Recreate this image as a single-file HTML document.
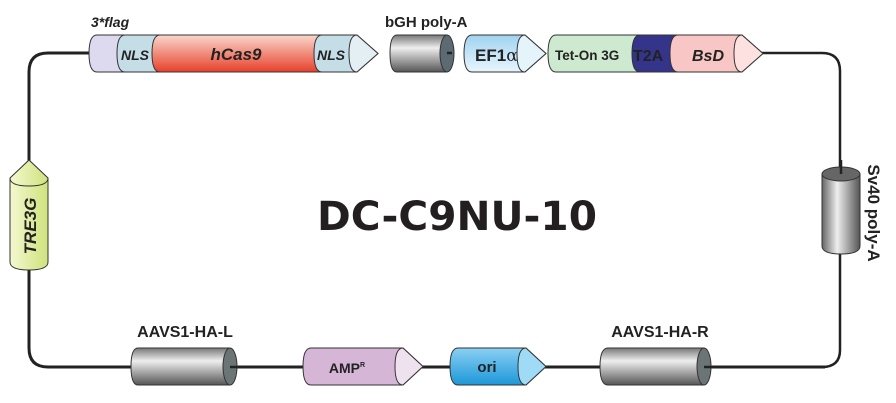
<!DOCTYPE html>
<html><head><style>html,body{margin:0;padding:0;background:#fff}svg{display:block}</style></head>
<body>
<svg width="896" height="403" viewBox="0 0 896 403" xmlns="http://www.w3.org/2000/svg" font-family="Liberation Sans, Arial, sans-serif">
<defs>
<linearGradient id="gray" x1="0" y1="0" x2="0" y2="1"><stop offset="0" stop-color="#777"/><stop offset="0.35" stop-color="#eee"/><stop offset="1" stop-color="#555"/></linearGradient>
<linearGradient id="grayv" x1="0" y1="0" x2="1" y2="0"><stop offset="0" stop-color="#666"/><stop offset="0.4" stop-color="#eee"/><stop offset="1" stop-color="#555"/></linearGradient>
<linearGradient id="red" x1="0" y1="0" x2="0" y2="1"><stop offset="0" stop-color="#f9d7cc"/><stop offset="1" stop-color="#e8402a"/></linearGradient>
<linearGradient id="blue" x1="0" y1="0" x2="0" y2="1"><stop offset="0" stop-color="#9fd3f0"/><stop offset="1" stop-color="#e8f5fc"/></linearGradient>
<linearGradient id="ori" x1="0" y1="0" x2="0" y2="1"><stop offset="0" stop-color="#8ad0f3"/><stop offset="1" stop-color="#1c97d8"/></linearGradient>
<linearGradient id="lime" x1="0" y1="0" x2="1" y2="0"><stop offset="0" stop-color="#f4f8d0"/><stop offset="1" stop-color="#cfe27c"/></linearGradient>
</defs>
<g fill="none" stroke="#222" stroke-width="3">
<path d="M90 53 H48 Q29 53 29 72 V348 Q29 367 48 367 H825"/>
<path d="M760 53 H822 Q840 53 840 71 V350 Q840 367 822 367 H700" stroke-width="2.5"/>
</g>
<g stroke="#333" stroke-width="1">
<path d="M97 35 H125 V72 H97 Q89 72 89 53.5 Q89 35 97 35Z" fill="#ddd9ee"/>
<path d="M125 35 H160 V72 H125 Q117 72 117 53.5 Q117 35 125 35Z" fill="#c5dde6"/>
<path d="M160 35 H322 V72 H160 Q152 72 152 53.5 Q152 35 160 35Z" fill="url(#red)"/>
<path d="M322 35 H357 L378 53.5 L357 72 H322 Q314 72 314 53.5 Q314 35 322 35Z" fill="#c5dde6"/>
<path d="M357 35 Q349 35 349 53.5 Q349 72 357 72 L378 53.5Z" fill="#e4eff3"/>
<path d="M397 35 H447 V72 H397 Q390 72 390 53.5 Q390 35 397 35Z" fill="url(#gray)"/>
<ellipse cx="447" cy="53.5" rx="7" ry="18.5" fill="#5c6a72"/>
<path d="M472 35 H525 L546 53.5 L525 72 H472 Q464 72 464 53.5 Q464 35 472 35Z" fill="url(#blue)"/>
<path d="M525 35 Q517 35 517 53.5 Q517 72 525 72 L546 53.5Z" fill="#e5f4fb"/>
<path d="M556 35 H640 V72 H556 Q548 72 548 53.5 Q548 35 556 35Z" fill="#cde9cf"/>
<path d="M640 35 H678 V72 H640 Q632 72 632 53.5 Q632 35 640 35Z" fill="#34348a"/>
<path d="M678 35 H742 L763 53.5 L742 72 H678 Q670 72 670 53.5 Q670 35 678 35Z" fill="#f9c6c6"/>
<path d="M742 35 Q734 35 734 53.5 Q734 72 742 72 L763 53.5Z" fill="#fde0e0"/>
<path d="M10 178 L29 160 L48 178 V262 Q48 270 29 270 Q10 270 10 262Z" fill="url(#lime)"/>
<path d="M10 178 Q10 186 29 186 Q48 186 48 178" fill="none"/>
<path d="M822 174 V246 Q822 254 841 254 Q860 254 860 246 V174Z" fill="url(#grayv)"/>
<ellipse cx="841" cy="174" rx="19" ry="7" fill="#666"/>
<path d="M138 348 H230 V385 H138 Q131 385 131 366.5 Q131 348 138 348Z" fill="url(#gray)"/>
<ellipse cx="230" cy="366.5" rx="7" ry="18.5" fill="#6b7575"/>
<path d="M311 348 H403 L423 366.5 L403 385 H311 Q303 385 303 366.5 Q303 348 311 348Z" fill="#d6b6d6"/>
<path d="M403 348 Q395 348 395 366.5 Q395 385 403 385 L423 366.5Z" fill="#efe2ef"/>
<path d="M458 348 H526 L546 366.5 L526 385 H458 Q450 385 450 366.5 Q450 348 458 348Z" fill="url(#ori)"/>
<path d="M526 348 Q518 348 518 366.5 Q518 385 526 385 L546 366.5Z" fill="#9fdaf6"/>
<path d="M608 348 H704 V385 H608 Q600 385 600 366.5 Q600 348 608 348Z" fill="url(#gray)"/>
<ellipse cx="704" cy="366.5" rx="7" ry="18.5" fill="#6b7575"/>
</g>
<g stroke="#222" stroke-width="2.5"><line x1="704" y1="367" x2="712" y2="367"/><line x1="447" y1="53" x2="452" y2="53"/><line x1="230" y1="367" x2="237" y2="367"/><line x1="841" y1="160" x2="841" y2="174"/></g>
<g fill="#222" font-weight="bold" font-size="14">
<text x="91" y="27" font-style="italic" font-size="14">3*flag</text>
<text x="121" y="60" font-style="italic" font-size="14">NLS</text>
<text x="236" y="60" font-style="italic" font-size="17" text-anchor="middle">hCas9</text>
<text x="317" y="60" font-style="italic" font-size="14">NLS</text>
<text x="385" y="27" font-size="15">bGH poly-A</text>
<text x="475" y="61" font-size="17">EF1<tspan font-weight="normal" font-family="DejaVu Serif, serif">α</tspan></text>
<text x="555" y="60" font-size="13.5">Tet-On 3G</text>
<text x="633" y="61" font-size="16">T2A</text>
<text x="708" y="61" font-style="italic" font-size="16" text-anchor="middle">BsD</text>
<text transform="translate(36 226) rotate(-90)" text-anchor="middle" font-style="italic" font-size="17">TRE3G</text>
<text transform="translate(868 213) rotate(90)" text-anchor="middle" font-size="17">Sv40 poly-A</text>
<text x="185" y="337" text-anchor="middle" font-size="16">AAVS1-HA-L</text>
<text x="660" y="337" text-anchor="middle" font-size="16">AAVS1-HA-R</text>
<text x="347" y="373" text-anchor="middle" font-size="14">AMP<tspan font-size="7" dy="-6">R</tspan></text>
<text x="487" y="372" text-anchor="middle" font-size="15">ori</text>
<text x="457" y="230" text-anchor="middle" font-family="DejaVu Sans, sans-serif" font-size="40" textLength="280" lengthAdjust="spacingAndGlyphs" fill="#231f20">DC-C9NU-10</text>
</g>
</svg>
</body></html>
